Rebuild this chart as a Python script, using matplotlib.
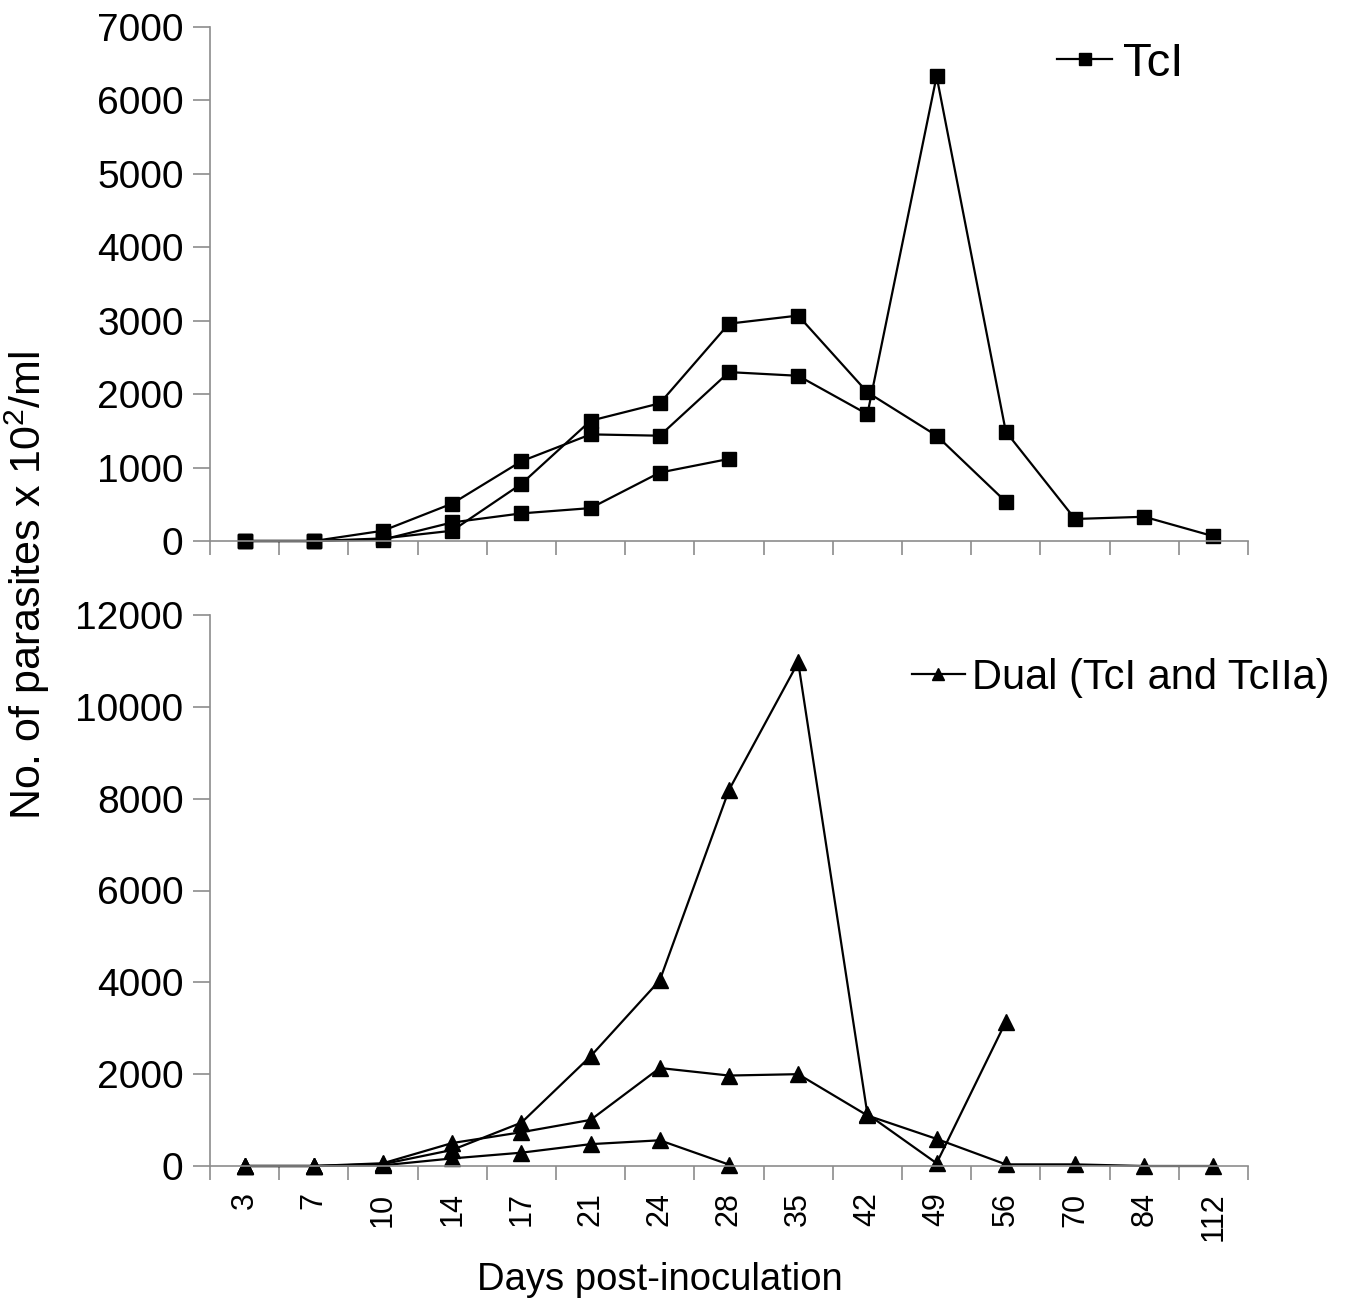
import numpy as np
import matplotlib
matplotlib.use("Agg")
import matplotlib.pyplot as plt

plt.rcParams['font.family'] = ['Liberation Sans', 'DejaVu Sans']
plt.rcParams['mathtext.default'] = 'regular'

nan = np.nan
days = ['3', '7', '10', '14', '17', '21', '24', '28', '35', '42', '49', '56', '70', '84', '112']

# TcI infections (top panel)
tc1_a = [0, 0, 35, 140, 778, 1638, 1875, 2960, 3070, 2025, 1435, 535, nan, nan, nan]
tc1_b = [0, 0, 140, 510, 1086, 1452, 1434, 2300, 2250, 1727, 6330, 1490, 300, 330, 65]
tc1_c = [0, 0, 20, 253, 376, 448, 932, 1118, nan, nan, nan, nan, nan, nan, nan]

# Dual (TcI and TcIIa) infections (bottom panel)
dual_a = [0, 0, 40, 350, 944, 2390, 4045, 8190, 10970, 1130, 60, 3140, nan, nan, nan]
dual_b = [0, 0, 60, 500, 736, 1004, 2134, 1970, 2000, 1100, 590, 35, 35, 0, 0]
dual_c = [0, 0, 15, 165, 290, 476, 560, 30, nan, nan, nan, nan, nan, nan, nan]

W, H = 1353, 1305
fig = plt.figure(figsize=(W / 100, H / 100), dpi=100)

L = 210 / W
AW = (1248 - 210) / W
ax1 = fig.add_axes([L, 1 - 541 / H, AW, (541 - 27) / H])
ax2 = fig.add_axes([L, 1 - 1166 / H, AW, (1166 - 615) / H])

x = np.arange(len(days))
gray = '#8c8c8c'

def style(ax, ymax, ystep, show_labels):
    for s in ['top', 'right']:
        ax.spines[s].set_visible(False)
    for s in ['left', 'bottom']:
        ax.spines[s].set_color(gray)
        ax.spines[s].set_linewidth(1.2)
    ax.set_xlim(-0.5, len(days) - 0.5)
    ax.set_ylim(0, ymax)
    ax.set_yticks(np.arange(0, ymax + 1, ystep))
    ax.tick_params(axis='y', direction='out', length=12, width=1.2, color=gray,
                   labelsize=28, pad=7)
    ax.set_xticks(np.arange(-0.5, len(days), 1.0))
    ax.set_xticklabels([])
    ax.tick_params(axis='x', which='major', direction='out', length=10, width=1.2, color=gray)
    if show_labels:
        ax.set_xticks(x, minor=True)
        ax.set_xticklabels(days, minor=True, rotation=90, fontsize=22, va='top', ha='center')
        ax.tick_params(axis='x', which='minor', length=0, pad=19)

style(ax1, 7000, 1000, False)
style(ax2, 12000, 2000, True)

lkw = dict(color='black', linewidth=1.6, clip_on=False)
ax1.plot(x, tc1_a, marker='s', markersize=10, label='TcI', **lkw)
ax1.plot(x, tc1_b, marker='s', markersize=10, **lkw)
ax1.plot(x, tc1_c, marker='s', markersize=10, **lkw)

ax2.plot(x, dual_a, marker='^', markersize=11, label='Dual (TcI and TcIIa)', **lkw)
ax2.plot(x, dual_b, marker='^', markersize=11, **lkw)
ax2.plot(x, dual_c, marker='^', markersize=11, **lkw)

ax1.legend(loc='center left', bbox_to_anchor=((1057 - 210) / 1038, (541 - 64) / 514),
           frameon=False, fontsize=34, handlelength=1.17, handletextpad=0.23,
           borderpad=0, borderaxespad=0, markerscale=0.8)
ax2.legend(loc='center left', bbox_to_anchor=((912 - 210) / 1038, (1166 - 678) / 551),
           frameon=False, fontsize=30, handlelength=1.27, handletextpad=0.17,
           borderpad=0, borderaxespad=0, markerscale=0.8)

fig.text(27 / W, 1 - 585 / H, 'No. of parasites x 10$^{2}$/ml', rotation=90,
         ha='center', va='center', fontsize=31)
fig.text(660 / W, 1 - 1280 / H, 'Days post-inoculation', ha='center', va='center',
         fontsize=27.5)

fig.savefig('out.png', dpi=100, facecolor='white')
